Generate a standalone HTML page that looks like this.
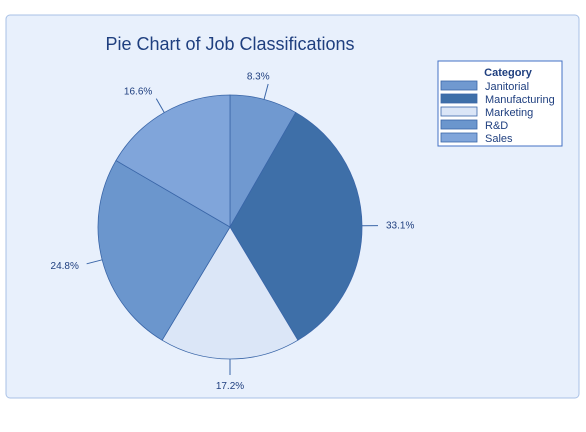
<!DOCTYPE html>
<html><head><meta charset="utf-8"><style>
body{margin:0;background:#fff;width:586px;height:427px;overflow:hidden;font-family:"Liberation Sans",sans-serif}
</style></head><body>
<svg width="586" height="427">
<rect x="6" y="15" width="573" height="383" rx="4" fill="#e8f0fc" stroke="#a9c1e6"/>
<text x="230" y="50" text-anchor="middle" font-size="18" fill="#1f3f7f">Pie Chart of Job Classifications</text>
<g id="slices"></g>
<g id="legend">
<rect x="438" y="61" width="124" height="85" fill="#fff" stroke="#4472c4" stroke-width="1"/>
<text x="508" y="76" text-anchor="middle" font-size="11" font-weight="bold" fill="#1f3f7f">Category</text>
</g>
</svg>
<script>
const categories=["Janitorial","Manufacturing","Marketing","R&D","Sales"];
const values=[8.3,33.1,17.2,24.8,16.6];
const colors=["#7099d0","#3e6fa8","#dbe6f7","#6b96cd","#80a5da"];
const ns="http://www.w3.org/2000/svg";
const cx=230,cy=227,r=132;
const total=values.reduce((a,b)=>a+b,0);
const g=document.getElementById('slices');
let acc=0;
function pt(a,rr){return [cx+rr*Math.sin(a),cy-rr*Math.cos(a)];}
values.forEach((v,i)=>{
 const a0=acc/total*2*Math.PI;acc+=v;const a1=acc/total*2*Math.PI;
 const [x0,y0]=pt(a0,r),[x1,y1]=pt(a1,r);
 const p=document.createElementNS(ns,'path');
 p.setAttribute('d',`M${cx},${cy}L${x0},${y0}A${r},${r} 0 ${a1-a0>Math.PI?1:0} 1 ${x1},${y1}Z`);
 p.setAttribute('fill',colors[i]);p.setAttribute('stroke','#3a66a8');p.setAttribute('stroke-width','0.8');
 
 
 g.appendChild(p);
 const m=(a0+a1)/2;const [lx0,ly0]=pt(m,r),[lx1,ly1]=pt(m,r+16),[tx,ty]=pt(m,r+24);
 const l=document.createElementNS(ns,'line');
 l.setAttribute('x1',lx0);l.setAttribute('y1',ly0);l.setAttribute('x2',lx1);l.setAttribute('y2',ly1);
 l.setAttribute('stroke','#3a66a8');
 
 
 g.appendChild(l);
 const s=Math.sin(m);
 const t=document.createElementNS(ns,'text');
 const shift=(s>0&&s<=0.3)?-12:0;
 t.setAttribute('x',tx+shift);t.setAttribute('y',ty+(Math.cos(m)<-0.8?6:3));
 t.setAttribute('text-anchor',s>0.3?'start':(s<-0.3?'end':'middle'));
 t.setAttribute('font-size','10');t.setAttribute('fill','#1f3f7f');
 t.textContent=v.toFixed(1)+'%';
 
 
 g.appendChild(t);
});
const lg=document.getElementById('legend');
categories.forEach((c,i)=>{
 const y=81+i*13;
 const rc=document.createElementNS(ns,'rect');
 rc.setAttribute('x',441);rc.setAttribute('y',y);rc.setAttribute('width',36);rc.setAttribute('height',9);
 rc.setAttribute('fill',colors[i]);rc.setAttribute('stroke','#3a66a8');rc.setAttribute('stroke-width','0.8');
 
 
 lg.appendChild(rc);
 const t=document.createElementNS(ns,'text');
 t.setAttribute('x',485);t.setAttribute('y',y+9);t.setAttribute('font-size','11');t.setAttribute('fill','#1f3f7f');
 t.textContent=c;
 
 
 lg.appendChild(t);
});
</script>
</body></html>
